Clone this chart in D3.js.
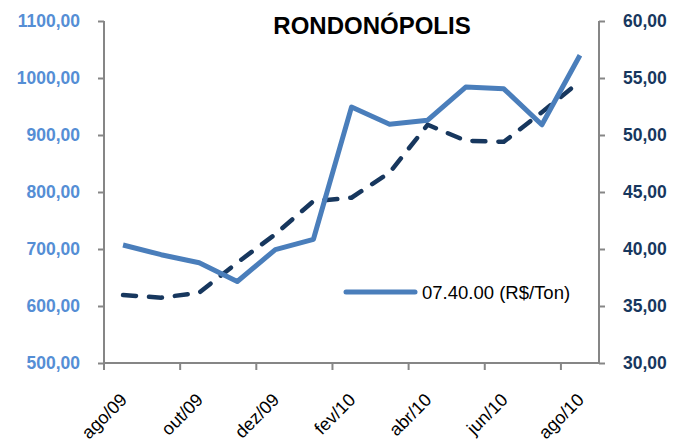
<!DOCTYPE html>
<html>
<head>
  <meta charset="UTF-8">
  <title>Rondonópolis</title>
  <style type="text/css">
    body { margin: 0; background: #fff; }
    text { font-family: "Liberation Sans", Arial, sans-serif; }
  </style>
</head>
<body>
  <script src="https://d3js.org/d3.v7.min.js"></script>
  <script>
    // chart data
    var months = ["ago/09", "set/09", "out/09", "nov/09", "dez/09", "jan/10", "fev/10",
                  "mar/10", "abr/10", "mai/10", "jun/10", "jul/10", "ago/10"];
    var priceTon = [707, 690, 676, 643, 699, 717, 949, 919, 926, 984, 981, 918, 1040];   // left axis
    var priceSack = [35.96, 35.73, 36.17, 38.8, 41.3, 44.2, 44.5, 46.7, 50.9, 49.5, 49.4, 52.0, 54.7]; // right axis
    var leftTicks = [500, 600, 700, 800, 900, 1000, 1100];
    var rightTicks = [30, 35, 40, 45, 50, 55, 60];
    var legendLabel = "07.40.00 (R$/Ton)";

    // page sizing
    var width = 674, height = 441;
    var plot = {left: 104, right: 599, top: 21, bottom: 363};

    var svg = d3.select("body").append("svg")
        .attr("width", width)
        .attr("height", height);

    // scales
    var x = d3.scaleBand().domain(months).range([plot.left, plot.right]).padding(0);
    var bw = x.bandwidth();
    var yL = d3.scaleLinear().domain([500, 1100]).range([plot.bottom, plot.top]);
    var yR = d3.scaleLinear().domain([30, 60]).range([plot.bottom, plot.top]);

    function fmt(d) { return d.toFixed(2).replace(".", ","); }

    // left axis
    var gL = svg.append("g")
        .attr("transform", "translate(" + plot.left + ",0)")
        .call(d3.axisLeft(yL).tickValues(leftTicks).tickSize(6).tickPadding(18).tickFormat(fmt));
    gL.selectAll("text").style("font-size", "17.5px").style("font-weight", "bold").attr("fill", "#558ed5");

    // right axis
    var gR = svg.append("g")
        .attr("transform", "translate(" + plot.right + ",0)")
        .call(d3.axisRight(yR).tickValues(rightTicks).tickSize(6).tickPadding(18).tickFormat(fmt));
    gR.selectAll("text").style("font-size", "17.5px").style("font-weight", "bold").attr("fill", "#17375e");

    // bottom axis: ticks between categories, every two months
    var labelled = months.filter(function(d, i) { return i % 2 == 0; });
    var gB = svg.append("g")
        .attr("transform", "translate(0," + plot.bottom + ")")
        .call(d3.axisBottom(x).tickValues(labelled).tickSize(7).tickFormat(function(d) { return d; }));
    gB.selectAll(".tick line").attr("transform", "translate(" + (-bw / 2) + ",0)");
    gB.selectAll(".tick text")
        .style("font-size", "18px")
        .attr("fill", "#000")
        .attr("text-anchor", "end")
        .attr("x", 0).attr("y", 0).attr("dy", 0)
        .attr("transform", "translate(5,38) rotate(-45)");

    [gL, gR, gB].forEach(function(g) {
      g.select(".domain").attr("stroke", "#868686").attr("stroke-width", 2);
      g.selectAll(".tick line").attr("stroke", "#868686").attr("stroke-width", 2);
    });
    // domains without outer ticks
    gB.select(".domain").attr("d", "M" + plot.left + ",0H" + plot.right);
    gL.select(".domain").attr("d", "M0," + plot.top + "V" + plot.bottom);
    gR.select(".domain").attr("d", "M0," + plot.top + "V" + plot.bottom);

    // lines
    var lineL = d3.line()
        .x(function(d, i) { return x(months[i]) + bw / 2; })
        .y(function(d) { return yL(d); });
    var lineR = d3.line()
        .x(function(d, i) { return x(months[i]) + bw / 2; })
        .y(function(d) { return yR(d); });

    svg.append("path")
        .datum(priceSack)
        .attr("d", lineR)
        .attr("fill", "none")
        .attr("stroke", "#17375e")
        .attr("stroke-width", 4.5)
        .attr("stroke-linecap", "round")
        .attr("stroke-dasharray", "13,13");

    svg.append("path")
        .datum(priceTon)
        .attr("d", lineL)
        .attr("fill", "none")
        .attr("stroke", "#4a7ebb")
        .attr("stroke-width", 5)
        .attr("stroke-linejoin", "round");

    // legend
    svg.append("line")
        .attr("x1", 346).attr("x2", 415)
        .attr("y1", 292).attr("y2", 292)
        .attr("stroke", "#4a7ebb")
        .attr("stroke-width", 5)
        .attr("stroke-linecap", "round");
    svg.append("text")
        .attr("x", 422).attr("y", 299)
        .style("font-size", "18.5px")
        .attr("fill", "#000")
        .text(legendLabel);

    // title
    svg.append("text")
        .attr("x", 372).attr("y", 34)
        .attr("text-anchor", "middle")
        .style("font-size", "24px")
        .style("font-weight", "bold")
        .text("RONDONÓPOLIS");
  </script>
</body>
</html>
